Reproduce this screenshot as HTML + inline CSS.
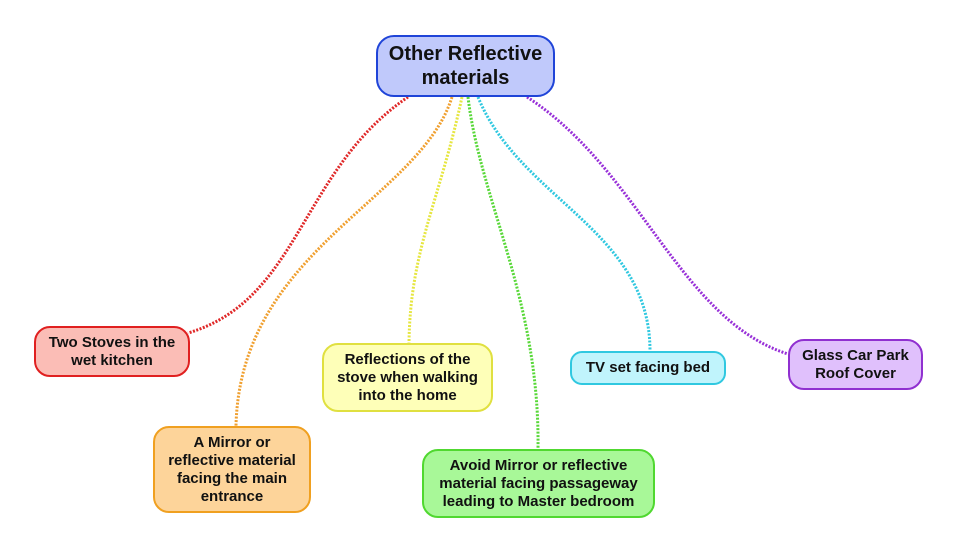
<!DOCTYPE html>
<html><head><style>
body{margin:0;width:958px;height:552px;background:#fff;position:relative;overflow:hidden;font-family:"Liberation Sans",Arial,sans-serif;}
.n{position:absolute;box-sizing:border-box;display:flex;align-items:center;justify-content:center;text-align:center;font-weight:bold;font-size:15px;line-height:18px;color:#111;border-radius:16px;border:2px solid;}
</style></head><body>
<svg width="958" height="552" style="position:absolute;left:0;top:0">
<g fill="none" stroke-width="3" stroke-dasharray="2 1.5">
<path d="M408 97 C300 170 300 300 188 333" stroke="#e02828"/>
<path d="M452 97 C420 200 240 250 236 426" stroke="#f0a030"/>
<path d="M462 97 C440 200 410 250 409 343" stroke="#e6e640"/>
<path d="M468 97 C480 200 540 300 538 449" stroke="#58d838"/>
<path d="M478 97 C520 200 650 230 650 351" stroke="#30c8e0"/>
<path d="M527 97 C640 170 680 320 788 354" stroke="#9830d8"/>
</g>
</svg>
<div class="n" style="left:376px;top:35px;width:179px;height:62px;background:#c0c9fb;border:2.5px solid #1f44d8;font-size:20px;line-height:24px;border-radius:18px">Other Reflective<br>materials</div>
<div class="n" style="left:34px;top:326px;width:156px;height:51px;background:#fbbdb6;border-color:#e02020">Two Stoves in the<br>wet kitchen</div>
<div class="n" style="left:153px;top:426px;width:158px;height:87px;background:#fdd49a;border-color:#f0a020">A Mirror or<br>reflective material<br>facing the main<br>entrance</div>
<div class="n" style="left:322px;top:343px;width:171px;height:69px;background:#feffb8;border-color:#e0e040">Reflections of the<br>stove when walking<br>into the home</div>
<div class="n" style="left:422px;top:449px;width:233px;height:69px;background:#a8f898;border-color:#50d830">Avoid Mirror or reflective<br>material facing passageway<br>leading to Master bedroom</div>
<div class="n" style="left:570px;top:351px;width:156px;height:34px;background:#c0f4fc;border-color:#30c8e0;border-radius:12px">TV set facing bed</div>
<div class="n" style="left:788px;top:339px;width:135px;height:51px;background:#e0c0fc;border-color:#9030d0">Glass Car Park<br>Roof Cover</div>
</body></html>
